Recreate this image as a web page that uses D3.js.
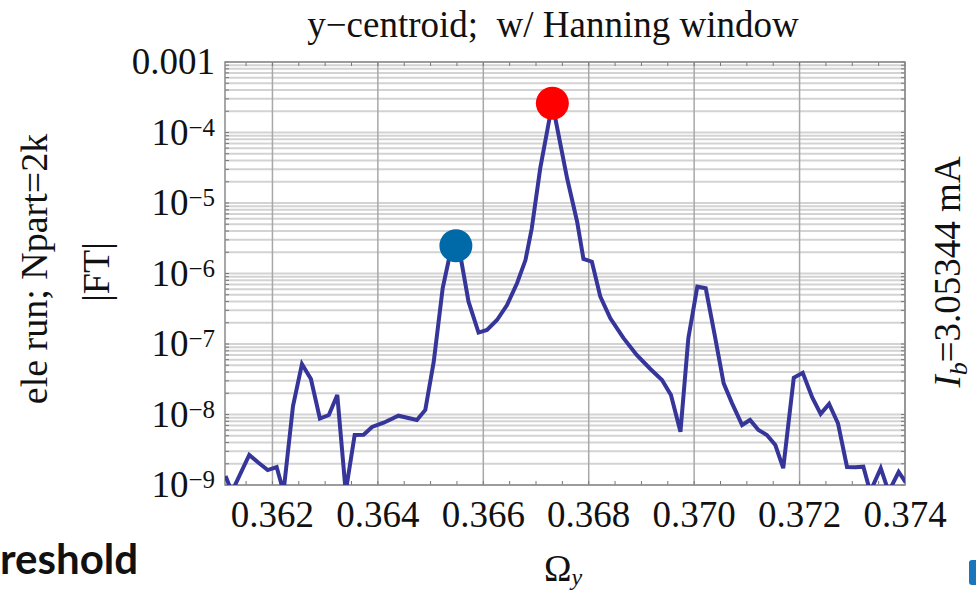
<!DOCTYPE html>
<html>
<head>
<meta charset="utf-8">
<script src="https://cdn.jsdelivr.net/npm/d3@7"></script>
<style>
  html, body { margin: 0; padding: 0; background: #fff; }
  svg { display: block; }
  text { font-family: "Liberation Serif", "Times New Roman", serif; fill: #111; }
</style>
</head>
<body>
<svg id="chart" width="976" height="593"></svg>
<script>
// Spectrum of the y-centroid signal (Hanning window), tune axis vs |FT|
const freq = [
  0.36111, 0.36123, 0.36156, 0.36173, 0.36191, 0.36208, 0.36221, 0.36239,
  0.36256, 0.36273, 0.36290, 0.36307, 0.36323, 0.36339, 0.36356, 0.36373,
  0.36389, 0.36411, 0.36439, 0.36474, 0.36490, 0.36506, 0.36523, 0.36539,
  0.36555, 0.36572, 0.36591, 0.36607, 0.36626, 0.36645, 0.36664, 0.36680,
  0.36692, 0.36708, 0.36731, 0.36759, 0.36778, 0.36790, 0.36806, 0.36822,
  0.36841, 0.36866, 0.36891, 0.36917, 0.36939, 0.36956, 0.36974, 0.36989,
  0.37006, 0.37022, 0.37039, 0.37056, 0.37072, 0.37091, 0.37106, 0.37122,
  0.37138, 0.37154, 0.37169, 0.37189, 0.37206, 0.37224, 0.37240, 0.37256,
  0.37273, 0.37290, 0.37306, 0.37321, 0.37334, 0.37354, 0.37369, 0.37388,
  0.37401
];
const amplitude = [
  1.34e-9, 8.0e-10, 2.67e-9, 2.08e-9, 1.63e-9, 1.80e-9, 8.0e-10, 1.32e-8,
  5.20e-8, 3.19e-8, 8.77e-9, 9.84e-9, 1.89e-8, 8.0e-10, 5.12e-9, 5.15e-9,
  6.65e-9, 7.65e-9, 9.62e-9, 8.36e-9, 1.16e-8, 5.61e-8, 6.22e-7, 2.23e-6,
  2.08e-6, 3.98e-7, 1.45e-7, 1.58e-7, 2.19e-7, 3.57e-7, 7.26e-7, 1.55e-6,
  4.38e-6, 3.10e-5, 2.60e-4, 2.24e-5, 5.43e-6, 1.61e-6, 1.47e-6, 4.69e-7,
  2.32e-7, 1.21e-7, 6.98e-8, 4.42e-8, 3.08e-8, 1.89e-8, 5.70e-9, 1.21e-7,
  6.50e-7, 6.17e-7, 1.34e-7, 2.77e-8, 1.44e-8, 7.10e-9, 8.36e-9, 6.03e-9,
  5.12e-9, 3.69e-9, 1.73e-9, 3.32e-8, 3.90e-8, 1.74e-8, 1.02e-8, 1.41e-8,
  7.45e-9, 1.80e-9, 1.78e-9, 1.82e-9, 8.0e-10, 1.73e-9, 8.0e-10, 1.53e-9,
  1.10e-9
];

// Highlighted spectral peaks
const peakFreq = [0.36548, 0.36731];
const peakAmp = [2.48e-6, 2.60e-4];
const peakColor = ["#0069a8", "#ff0000"];

// Axis ticks
const xTicks = [0.362, 0.364, 0.366, 0.368, 0.370, 0.372, 0.374];
const xTickLabels = ["0.362", "0.364", "0.366", "0.368", "0.370", "0.372", "0.374"];
const yTicks = [1e-3, 1e-4, 1e-5, 1e-6, 1e-7, 1e-8, 1e-9];
const yTickBase = ["0.001", "10", "10", "10", "10", "10", "10"];
const yTickExp = ["", "\u22124", "\u22125", "\u22126", "\u22127", "\u22128", "\u22129"];

const titleText = "y\u2212centroid;  w/ Hanning window";
const yLabelLines = ["ele run; Npart=2k", "|FT|"];

const svg = d3.select("#chart");
const plot = { left: 225, right: 905, top: 62, bottom: 485 };

const x = d3.scaleLinear().domain([0.3611, 0.374]).range([plot.left, plot.right]);
const y = d3.scaleLog().domain([1e-9, 1e-3]).range([plot.bottom, plot.top]);

svg.append("defs").append("clipPath").attr("id", "plotClip")
  .append("rect")
  .attr("x", plot.left).attr("y", plot.top)
  .attr("width", plot.right - plot.left).attr("height", plot.bottom - plot.top);

// Horizontal log grid: every 1..9 x 10^k
const minorY = [];
for (let e = -9; e < -3; e++) {
  for (let m = 1; m <= 9; m++) minorY.push(m * Math.pow(10, e));
}
minorY.push(1e-3);
svg.append("g")
  .selectAll("line").data(minorY).join("line")
  .attr("x1", plot.left).attr("x2", plot.right)
  .attr("y1", d => y(d)).attr("y2", d => y(d))
  .attr("stroke", "#d3d3d3").attr("stroke-width", 2);

// Vertical major grid lines
svg.append("g")
  .selectAll("line").data(xTicks).join("line")
  .attr("x1", d => x(d)).attr("x2", d => x(d))
  .attr("y1", plot.top).attr("y2", plot.bottom)
  .attr("stroke", "#a8a8a8").attr("stroke-width", 1.5);

// Minor tick marks on the frame
const minorX = d3.range(0.3615, 0.37401, 0.0005);
const tickG = svg.append("g").attr("stroke", "#777").attr("stroke-width", 1);
tickG.selectAll(".tb").data(minorX).join("line").attr("class", "tb")
  .attr("x1", d => x(d)).attr("x2", d => x(d))
  .attr("y1", plot.bottom).attr("y2", plot.bottom - 4);
tickG.selectAll(".tt").data(minorX).join("line").attr("class", "tt")
  .attr("x1", d => x(d)).attr("x2", d => x(d))
  .attr("y1", plot.top).attr("y2", plot.top + 4);
tickG.selectAll(".tl").data(minorY).join("line").attr("class", "tl")
  .attr("x1", plot.left).attr("x2", plot.left + 4)
  .attr("y1", d => y(d)).attr("y2", d => y(d));
tickG.selectAll(".tr").data(minorY).join("line").attr("class", "tr")
  .attr("x1", plot.right).attr("x2", plot.right - 4)
  .attr("y1", d => y(d)).attr("y2", d => y(d));

// Frame
svg.append("rect")
  .attr("x", plot.left).attr("y", plot.top)
  .attr("width", plot.right - plot.left).attr("height", plot.bottom - plot.top)
  .attr("fill", "none").attr("stroke", "#8a8a8a").attr("stroke-width", 1.5);

// Spectrum line
const pts = freq.map((f, i) => [f, amplitude[i]]);
const line = d3.line().x(d => x(d[0])).y(d => y(d[1]));
svg.append("path")
  .attr("clip-path", "url(#plotClip)")
  .attr("d", line(pts))
  .attr("fill", "none")
  .attr("stroke", "#35359a")
  .attr("stroke-width", 4)
  .attr("stroke-linejoin", "miter");

// Peak markers
svg.append("g")
  .selectAll("circle").data(peakFreq).join("circle")
  .attr("cx", d => x(d)).attr("cy", (d, i) => y(peakAmp[i]))
  .attr("r", 16.5)
  .attr("fill", (d, i) => peakColor[i]);

// X tick labels
svg.append("g")
  .selectAll("text").data(xTicks).join("text")
  .attr("x", d => x(d)).attr("y", 527)
  .attr("text-anchor", "middle")
  .attr("font-size", 37)
  .text((d, i) => xTickLabels[i]);

// Y tick labels
const yl = svg.append("g").selectAll("text").data(yTicks).join("text")
  .attr("x", 215).attr("y", d => y(d) + 12)
  .attr("text-anchor", "end")
  .attr("font-size", 37);
yl.append("tspan").text((d, i) => yTickBase[i]);
yl.append("tspan")
  .attr("font-size", 25).attr("dy", -9)
  .text((d, i) => yTickExp[i]);

// Title
svg.append("text")
  .attr("x", 553).attr("y", 37)
  .attr("text-anchor", "middle")
  .attr("font-size", 37)
  .style("white-space", "pre")
  .text(titleText);

// Left axis title (two lines, rotated)
svg.append("text")
  .attr("transform", "translate(47,269) rotate(-90)")
  .attr("text-anchor", "middle").attr("font-size", 38)
  .text(yLabelLines[0]);
svg.append("text")
  .attr("transform", "translate(109,272) rotate(-90)")
  .attr("text-anchor", "middle").attr("font-size", 38)
  .text(yLabelLines[1]);

// Right annotation: beam current
const rt = svg.append("text")
  .attr("transform", "translate(960,272) rotate(-90)")
  .attr("text-anchor", "middle").attr("font-size", 37);
rt.append("tspan").attr("font-style", "italic").text("I");
rt.append("tspan").attr("font-style", "italic").attr("font-size", 26).attr("dy", 7).text("b");
rt.append("tspan").attr("dy", -7).text("=3.05344 mA");

// X axis title
const xt = svg.append("text")
  .attr("x", 563).attr("y", 581)
  .attr("text-anchor", "middle").attr("font-size", 37);
xt.append("tspan").text("\u03A9");
xt.append("tspan").attr("font-style", "italic").attr("font-size", 24).attr("dy", 4).text("y");

// Slide text fragment and accent at the lower edge
svg.append("text")
  .attr("x", 0).attr("y", 574)
  .attr("font-weight", "bold")
  .attr("font-size", 42)
  .style("font-family", "Lato, 'Open Sans', sans-serif")
  .text("reshold");
svg.append("rect")
  .attr("x", 969).attr("y", 560).attr("width", 10).attr("height", 25)
  .attr("rx", 3).attr("fill", "#1b75bb");
</script>
</body>
</html>
